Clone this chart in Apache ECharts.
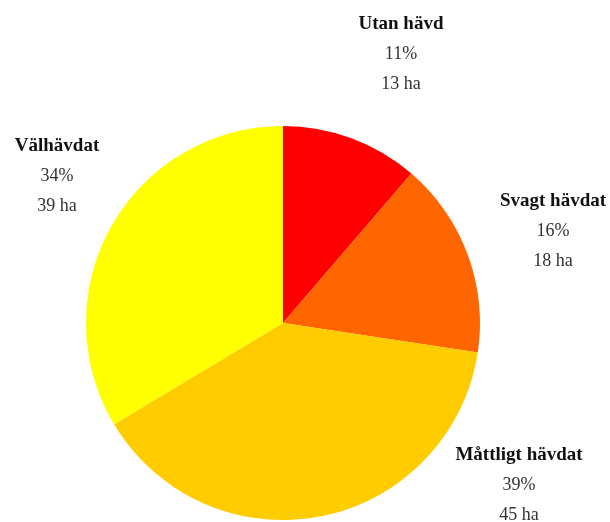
<!DOCTYPE html>
<html><head><meta charset="utf-8">
<script src="https://cdn.jsdelivr.net/npm/echarts@6/dist/echarts.min.js"></script>
<style>html,body{margin:0;padding:0;background:#fff}#c{width:610px;height:522px}</style>
</head><body><div id="c"></div>
<script>
var categories = ['Utan hävd', 'Svagt hävdat', 'Måttligt hävdat', 'Välhävdat'];
var shares = [11.3, 16.1, 39.0, 33.6];
var hectares = [13, 18, 45, 39];
var percents = [11, 16, 39, 34];
var colors = ['#FF0000', '#FF6600', '#FFCC00', '#FFFF00'];
var labelPos = {
  'Utan hävd': [401, 54],
  'Svagt hävdat': [553, 231],
  'Måttligt hävdat': [519, 485],
  'Välhävdat': [57, 176]
};
var chart = echarts.init(document.getElementById('c'));
chart.setOption({
  animation: false,
  series: [{
    type: 'pie',
    center: [283, 323],
    radius: 197,
    startAngle: 90,
    clockwise: true,
    avoidLabelOverlap: false,
    label: {
      show: true,
      position: 'outside',
      alignTo: 'none',
      overflow: 'none',
      bleedMargin: 0,
      formatter: function (p) {
        return '{n|' + p.name + '}\n{v|' + percents[p.dataIndex] + '%}\n{v|' + hectares[p.dataIndex] + ' ha}';
      },
      rich: {
        n: { fontFamily: 'Liberation Serif', fontWeight: 'bold', fontSize: 19, color: '#111', lineHeight: 31, align: 'center' },
        v: { fontFamily: 'Liberation Serif', fontSize: 18, color: '#333', lineHeight: 30, align: 'center' }
      }
    },
    labelLine: { show: false },
    labelLayout: function (params) {
      var pos = labelPos[categories[params.dataIndex]];
      return { x: pos[0], y: pos[1], align: 'center', verticalAlign: 'middle' };
    },
    data: categories.map(function (c, i) {
      return { name: c, value: shares[i], itemStyle: { color: colors[i] } };
    })
  }]
});
</script></body></html>
